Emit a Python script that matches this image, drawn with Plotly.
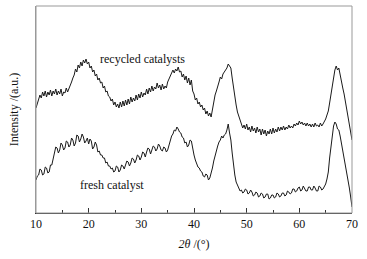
import plotly.graph_objects as go

recycled = [
    105, 110, 113, 118, 115, 121, 117, 122, 116, 121, 118, 123, 117, 122, 119, 124, 118, 122, 119, 124,
    117, 121, 120, 125, 121, 124, 127, 131, 135, 138, 144, 141, 148, 145, 151, 147, 153, 150, 154, 149,
    151, 145, 147, 141, 143, 137, 139, 133, 135, 130, 131, 125, 127, 121, 122, 117, 116, 112, 114, 108,
    111, 106, 109, 105, 111, 106, 112, 107, 113, 108, 114, 109, 116, 111, 115, 112, 118, 113, 119, 115,
    121, 116, 120, 118, 124, 119, 125, 121, 127, 122, 126, 124, 130, 125, 128, 123, 129, 124, 127, 125,
    131, 134, 138, 141, 143, 140, 144, 142, 146, 141, 142, 136, 139, 133, 137, 130, 135, 128, 133, 122,
    119, 113, 115, 109, 111, 106, 108, 103, 105, 99, 102, 97, 100, 96, 104, 110, 118, 122, 128, 131,
    136, 134, 139, 141, 144, 145, 149, 147, 145, 135, 124, 115, 108, 101, 97, 92, 89, 85, 88, 84,
    89, 83, 86, 81, 87, 82, 85, 80, 86, 81, 84, 78, 84, 79, 83, 77, 82, 79, 84, 79,
    85, 80, 84, 81, 86, 82, 86, 83, 87, 83, 86, 84, 88, 85, 87, 85, 89, 87, 90, 88,
    92, 89, 91, 88, 90, 87, 90, 87, 89, 86, 89, 86, 90, 87, 88, 86, 90, 87, 89, 91,
    94, 98, 102, 110, 119, 128, 138, 143, 147, 143, 145, 137, 132, 125, 119, 111, 105, 97, 90, 81,
    73]

fresh = [
    33, 37, 38, 44, 43, 38, 39, 46, 45, 40, 41, 48, 48, 55, 58, 66, 65, 60, 63, 70,
    68, 63, 65, 72, 71, 66, 68, 75, 73, 67, 70, 78, 77, 71, 74, 79, 76, 70, 72, 75,
    69, 74, 72, 64, 66, 71, 68, 61, 62, 58, 58, 55, 55, 50, 51, 47, 47, 44, 45, 41,
    42, 47, 46, 41, 43, 48, 47, 44, 48, 52, 51, 47, 50, 55, 54, 50, 53, 58, 57, 53,
    56, 61, 60, 56, 61, 65, 64, 59, 63, 67, 66, 62, 64, 69, 67, 63, 62, 66, 65, 61,
    63, 68, 73, 77, 79, 83, 82, 86, 84, 81, 80, 76, 75, 70, 71, 66, 68, 73, 72, 64,
    58, 53, 50, 46, 45, 42, 41, 37, 36, 39, 38, 33, 35, 39, 45, 52, 58, 63, 67, 71,
    73, 77, 75, 78, 79, 83, 89, 80, 73, 60, 48, 38, 31, 27, 25, 22, 23, 20, 21, 24,
    23, 19, 20, 23, 21, 17, 18, 21, 20, 16, 17, 20, 19, 15, 16, 19, 19, 14, 15, 18,
    18, 15, 16, 20, 19, 16, 17, 20, 20, 17, 18, 22, 21, 19, 20, 24, 24, 21, 22, 25,
    26, 22, 23, 27, 25, 22, 22, 26, 26, 23, 23, 27, 25, 22, 22, 27, 26, 23, 24, 27,
    29, 34, 41, 55, 68, 78, 87, 91, 89, 84, 83, 77, 70, 63, 55, 48, 41, 33, 25, 16,
    6]

two_theta = [10 + 0.25 * i for i in range(len(recycled))]

x_ticks = [10, 20, 30, 40, 50, 60, 70]
labels = ["recycled catalysts", "fresh catalyst"]

FONT = "Liberation Serif"

fig = go.Figure()
for ys in (recycled, fresh):
    fig.add_trace(go.Scatter(x=two_theta, y=ys, mode="lines",
                             line=dict(color="#1a1a1a", width=1),
                             showlegend=False, hoverinfo="skip"))

fig.add_annotation(x=30.2, y=154, text=labels[0], showarrow=False,
                   font=dict(family=FONT, size=12, color="#111"),
                   xanchor="center", yanchor="middle")
fig.add_annotation(x=24.5, y=28, text=labels[1], showarrow=False,
                   font=dict(family=FONT, size=12, color="#111"),
                   xanchor="center", yanchor="middle")

fig.add_shape(type="rect", xref="paper", yref="paper", x0=0, y0=0, x1=1, y1=1,
              line=dict(color="#999999", width=1), layer="above")

fig.update_layout(
    width=367, height=259,
    margin=dict(l=36, r=15, t=6, b=46),
    paper_bgcolor="white", plot_bgcolor="white",
    font=dict(family=FONT, size=11, color="#111"),
    xaxis=dict(range=[10, 70], tickvals=x_ticks, ticks="inside", ticklen=5,
               tickcolor="#333", showgrid=False, zeroline=False, automargin=False,
               showline=True, linecolor="#333", linewidth=1,
               minor=dict(dtick=5, ticks="inside", ticklen=3, tickcolor="#333"),
               tickfont=dict(family=FONT, size=12),
               title=dict(text="<i>2θ</i> /(°)", font=dict(family=FONT, size=12),
                          standoff=9)),
    yaxis=dict(range=[0, 207], showticklabels=False, ticks="", showgrid=False,
               zeroline=False, showline=True, linecolor="#999999", automargin=False,
               title=dict(text="Intensity /(a.u.)", font=dict(family=FONT, size=12),
                          standoff=13)),
)

fig.write_html("out.html", config={"displayModeBar": False},
               post_script="document.body.style.margin='0';")
